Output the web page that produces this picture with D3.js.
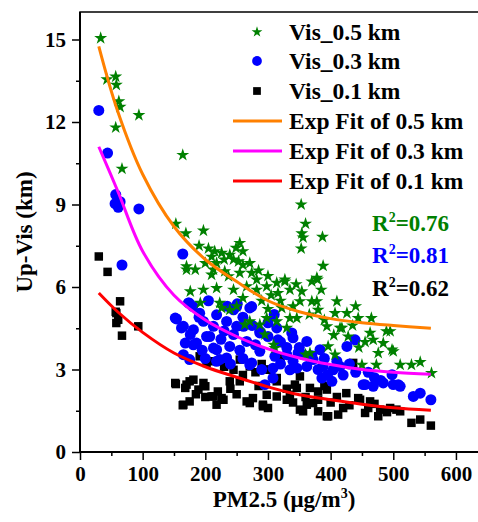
<!DOCTYPE html>
<html>
<head>
<meta charset="utf-8">
<script src="https://cdn.jsdelivr.net/npm/d3@7"></script>
<style>
  body { margin: 0; background: #fff; }
  text { font-family: "Liberation Serif", "Times New Roman", serif; font-weight: bold; }
</style>
</head>
<body>
<div id="chart"></div>
<script>
// scatter data: [PM2.5, Up-Vis]
const vis05 = [
  [33,15.05],[43,13.55],[57,13.65],[58,13.35],[62,12.75],[64,12.55],[57,11.8],[94,12.25],[67,10.3],
  [164,10.8],[153,8.3],[169,7.95],[197,8.05],[190,7.5],[353,9.0],[360,8.3],[354,7.95],[356,7.8],
  [387,7.82],[353,7.4],[388,6.77],[379,6.27],[385,5.9],[378,5.48],[410,5.48],[226,7.24],[249,7.42],
  [239,7.17],[253,6.93],[218,6.87],[170,6.63],[184,6.63],[200,6.87],[210,6.45],[231,6.57],[237,6.39],
  [255,6.51],[271,6.87],[274,6.51],[282,6.27],[266,6.02],[298,6.02],[314,6.15],[327,6.2],[176,5.84],
  [197,5.9],[218,5.96],[245,5.9],[282,5.9],[316,5.78],[354,5.84],[370,6.2],[351,5.48],[226,5.24],
  [271,4.75],[263,4.63],[298,4.87],[295,4.27],[330,4.51],[311,3.78],[346,4.87],[360,3.54],[322,5.24],
  [366,5.0],[380,5.17],[407,5.05],[426,5.05],[444,4.87],[465,4.87],[418,4.51],[428,4.2],[463,4.33],
  [495,4.39],[468,4.08],[484,3.96],[396,3.84],[407,3.54],[476,3.6],[500,3.66],[450,3.17],[473,3.17],
  [511,3.17],[529,3.17],[543,3.27],[561,2.87],[327,6.27],[378,6.33],[370,5.48],[394,4.57],[415,4.51],
  [489,4.39],[498,3.72],[309,3.9],[367,3.6],[287,4.63],[314,4.75],[335,4.87],[170,6.75],[213,6.63],
  [223,5.42],[239,5.17],[192,5.42],[210,7.1],[260,7.3],[205,7.4],[230,7.0],[215,7.3],[245,7.0],
  [260,6.8],[285,6.6],[300,6.4],[255,7.6],[290,5.5],[305,5.7],[320,5.5],[340,5.3],[335,5.9],
  [345,6.1],[300,5.2],[260,5.6],[250,5.3],[435,4.6],[440,5.3],[455,4.0],[445,3.8],[390,4.8],[405,4.25]
];
const vis03 = [
  [30,12.42],[44,10.87],[57,9.36],[56,9.03],[64,9.1],[61,8.9],[94,8.84],[67,6.8],[164,7.2],
  [174,5.42],[251,5.39],[154,4.84],[173,5.42],[162,4.51],[168,3.96],[175,3.36],[191,5.05],[181,4.45],
  [202,4.2],[213,4.57],[223,3.36],[239,3.84],[218,3.72],[245,5.17],[250,4.57],[186,3.96],[152,4.87],
  [165,4.57],[197,4.75],[218,4.99],[234,4.75],[250,5.29],[271,5.24],[245,4.27],[266,4.02],[287,4.39],
  [314,4.51],[340,4.15],[362,4.02],[330,3.54],[287,3.66],[234,3.42],[218,3.3],[165,3.54],[181,3.9],
  [213,3.78],[271,3.17],[308,3.05],[346,3.05],[356,3.54],[176,4.27],[207,4.2],[274,5.29],[261,4.57],
  [287,4.33],[316,4.08],[338,4.33],[383,3.72],[426,3.84],[439,4.08],[404,2.99],[415,3.11],[388,3.11],
  [362,3.11],[484,2.51],[500,2.45],[511,2.39],[468,2.39],[452,2.45],[498,2.81],[532,2.02],[543,2.14],
  [560,1.9],[295,2.45],[308,2.69],[274,3.24],[335,2.99],[372,3.36],[348,3.6],[311,3.48],[386,2.69],
  [402,2.57],[455,2.45],[508,2.45],[190,4.9],[230,4.4],[260,4.9],[300,4.7],[320,4.0],[330,3.8],
  [350,3.8],[370,3.5],[390,3.4],[410,3.3],[430,3.2],[440,2.9],[460,2.9],[470,2.7],[420,2.8],
  [300,4.2],[280,3.9],[255,3.7],[240,3.2],[200,3.4],[195,3.7],[225,4.1],[260,3.4],[290,3.0],
  [320,3.2],[340,3.3],[380,3.0],[395,2.8],[480,2.6],[275,4.6],[310,5.0],[205,5.5],[180,5.3],[235,5.3]
];
const vis01 = [
  [30,7.11],[44,6.55],[64,5.48],[58,5.05],[61,4.81],[58,4.69],[67,4.23],[93,4.57],[57,5.1],
  [153,2.47],[164,1.7],[175,1.84],[175,2.57],[168,2.33],[189,2.27],[200,2.39],[213,2.02],[218,1.72],
  [229,1.9],[191,3.48],[202,3.24],[245,2.99],[152,2.51],[170,2.45],[181,2.63],[197,2.51],[165,1.72],
  [210,2.02],[226,1.96],[239,2.57],[266,1.84],[276,1.96],[292,1.72],[298,2.08],[314,2.02],[335,2.08],
  [356,1.48],[362,1.72],[346,2.33],[255,2.57],[314,2.57],[380,2.2],[380,1.48],[396,1.3],[412,1.36],
  [425,2.14],[444,1.96],[463,1.84],[455,1.42],[476,1.3],[495,1.6],[511,1.48],[529,1.06],[543,1.18],
  [560,0.96],[255,3.36],[271,3.11],[303,2.99],[314,2.69],[343,2.45],[367,2.33],[394,2.27],[436,3.24],
  [447,1.9],[479,1.54],[505,1.54],[351,1.54],[372,1.78],[394,1.3],[271,1.78],[292,1.66],[330,1.9],
  [351,2.75],[210,3.3],[230,3.1],[260,2.8],[280,2.9],[290,3.2],[300,3.0],[320,3.4],[240,2.3],
  [285,2.4],[250,2.1],[330,2.3],[360,2.0],[380,1.9],[400,1.8],[410,2.0],[430,1.7],[420,1.6],
  [460,1.6],[490,1.45],[470,1.75],[340,1.8],[300,1.6],[390,2.4],[200,2.0],[185,2.1],[220,2.2]
];

// exp fit curves
const fitX   = [30, 60, 100, 150, 200, 250, 300, 350, 400, 450, 500, 560];
const fit05Y = [14.75, 12.4, 10.1, 8.2, 7.0, 6.2, 5.5, 5.1, 4.85, 4.7, 4.6, 4.5];
const fit03Y = [11.1, 9.5, 7.3, 5.7, 4.8, 4.2, 3.75, 3.42, 3.18, 3.0, 2.9, 2.83];
const fit01Y = [5.78, 5.1, 4.35, 3.6, 3.1, 2.72, 2.37, 2.08, 1.9, 1.74, 1.61, 1.52];

const xTicks = [0, 100, 200, 300, 400, 500, 600];
const yTicks = [0, 3, 6, 9, 12, 15];
const r2Labels = ['0.76', '0.81', '0.62'];

const width = 478, height = 522;
const margin = {top: 12, left: 80};
const plotW = 401, plotH = 440;

const svg = d3.select('#chart').append('svg')
    .attr('width', width)
    .attr('height', height);

const x = d3.scaleLinear().domain([0, 640]).range([margin.left, margin.left + plotW]);
const y = d3.scaleLinear().domain([0, 16]).range([margin.top + plotH, margin.top]);

// frame (top line, right side falls off the canvas)
svg.append('rect')
    .attr('x', margin.left).attr('y', margin.top)
    .attr('width', plotW).attr('height', plotH)
    .attr('fill', 'none').attr('stroke', '#000').attr('stroke-width', 1.5);

// axes
const xAxis = d3.axisBottom(x).tickValues(xTicks).tickSize(8).tickPadding(6).tickFormat(d3.format('d'));
const xMinor = d3.axisBottom(x).tickValues(d3.range(50, 640, 100)).tickSize(4).tickFormat('');
const yAxis = d3.axisLeft(y).tickValues(yTicks).tickSize(8).tickPadding(6);
const yMinor = d3.axisLeft(y).tickValues(d3.range(1.5, 16, 3)).tickSize(4).tickFormat('');

const gx = svg.append('g').attr('class', 'axis')
    .attr('transform', 'translate(0,' + (margin.top + plotH) + ')');
gx.call(xAxis);
gx.append('g').call(xMinor);
const gy = svg.append('g').attr('class', 'axis')
    .attr('transform', 'translate(' + margin.left + ',0)');
gy.call(yAxis);
gy.append('g').call(yMinor);

svg.selectAll('.axis path').remove();
svg.selectAll('.axis line').attr('stroke', '#000').attr('stroke-width', 1.5);
svg.selectAll('.axis text')
    .attr('fill', '#000')
    .style('font-size', '21px')
    .style('font-family', '"Liberation Serif", serif')
    .style('font-weight', 'bold');

// axis lines drawn thicker
svg.append('line')
    .attr('x1', margin.left).attr('x2', margin.left + plotW)
    .attr('y1', margin.top + plotH).attr('y2', margin.top + plotH)
    .attr('stroke', '#000').attr('stroke-width', 2);
svg.append('line')
    .attr('x1', margin.left).attr('x2', margin.left)
    .attr('y1', margin.top).attr('y2', margin.top + plotH)
    .attr('stroke', '#000').attr('stroke-width', 2);

// scatter: squares, circles, stars
const sq = d3.symbol().type(d3.symbolSquare).size(72);
const ci = d3.symbol().type(d3.symbolCircle).size(95);
const st = d3.symbol().type(d3.symbolStar).size(52);

svg.append('g').selectAll('path')
    .data(vis01).enter().append('path')
    .attr('d', sq)
    .attr('transform', d => 'translate(' + x(d[0]) + ',' + y(d[1]) + ')')
    .attr('fill', '#000');

svg.append('g').selectAll('path')
    .data(vis03).enter().append('path')
    .attr('d', ci)
    .attr('transform', d => 'translate(' + x(d[0]) + ',' + y(d[1]) + ')')
    .attr('fill', '#0000ff');

svg.append('g').selectAll('path')
    .data(vis05).enter().append('path')
    .attr('d', st)
    .attr('transform', d => 'translate(' + x(d[0]) + ',' + y(d[1]) + ')')
    .attr('fill', '#008000');

// fit curves
const fitLine = d3.line()
    .x((d, i) => x(fitX[i]))
    .y(d => y(d))
    .curve(d3.curveCatmullRom.alpha(0.5));

const fits = [
    {ys: fit05Y, color: '#ff8000'},
    {ys: fit03Y, color: '#ff00ff'},
    {ys: fit01Y, color: '#ff0000'}
];
fits.forEach(f => {
    svg.append('path')
        .attr('d', fitLine(f.ys))
        .attr('fill', 'none')
        .attr('stroke', f.color)
        .attr('stroke-width', 3);
});

// legend
const legend = svg.append('g').style('font-size', '23.5px');
const symRows = [
    {label: 'Vis_0.5 km', sym: d3.symbol().type(d3.symbolStar).size(36), color: '#008000', cy: 32},
    {label: 'Vis_0.3 km', sym: d3.symbol().type(d3.symbolCircle).size(75), color: '#0000ff', cy: 61},
    {label: 'Vis_0.1 km', sym: d3.symbol().type(d3.symbolSquare).size(60), color: '#000', cy: 91}
];
symRows.forEach(r => {
    legend.append('path')
        .attr('d', r.sym)
        .attr('transform', 'translate(257,' + r.cy + ')')
        .attr('fill', r.color);
    legend.append('text')
        .attr('x', 289).attr('y', r.cy + 8)
        .text(r.label);
});
const lineRows = [
    {label: 'Exp Fit of 0.5 km', color: '#ff8000', cy: 121},
    {label: 'Exp Fit of 0.3 km', color: '#ff00ff', cy: 151},
    {label: 'Exp Fit of 0.1 km', color: '#ff0000', cy: 181}
];
lineRows.forEach(r => {
    legend.append('line')
        .attr('x1', 233).attr('x2', 282)
        .attr('y1', r.cy).attr('y2', r.cy)
        .attr('stroke', r.color).attr('stroke-width', 3);
    legend.append('text')
        .attr('x', 289).attr('y', r.cy + 8)
        .text(r.label);
});

// R^2 labels
const r2Colors = ['#008000', '#0000ff', '#000'];
const r2Base = [231, 263, 296];
r2Labels.forEach((v, i) => {
    const t = svg.append('text')
        .attr('x', 372).attr('y', r2Base[i])
        .attr('fill', r2Colors[i])
        .style('font-size', '23px');
    t.append('tspan').text('R');
    t.append('tspan').attr('dy', -9).style('font-size', '14px').text('2');
    t.append('tspan').attr('dy', 9).text('=' + v);
});

// axis titles
const xt = svg.append('text')
    .attr('x', 284).attr('y', 507)
    .attr('text-anchor', 'middle')
    .style('font-size', '23px');
xt.append('tspan').text('PM2.5 (\u03bcg/m');
xt.append('tspan').attr('dy', -9).style('font-size', '14px').text('3');
xt.append('tspan').attr('dy', 9).text(')');

svg.append('text')
    .attr('transform', 'translate(32,' + (margin.top + plotH / 2) + ') rotate(-90)')
    .attr('text-anchor', 'middle')
    .style('font-size', '23px')
    .text('Up-Vis (km)');
</script>
</body>
</html>
